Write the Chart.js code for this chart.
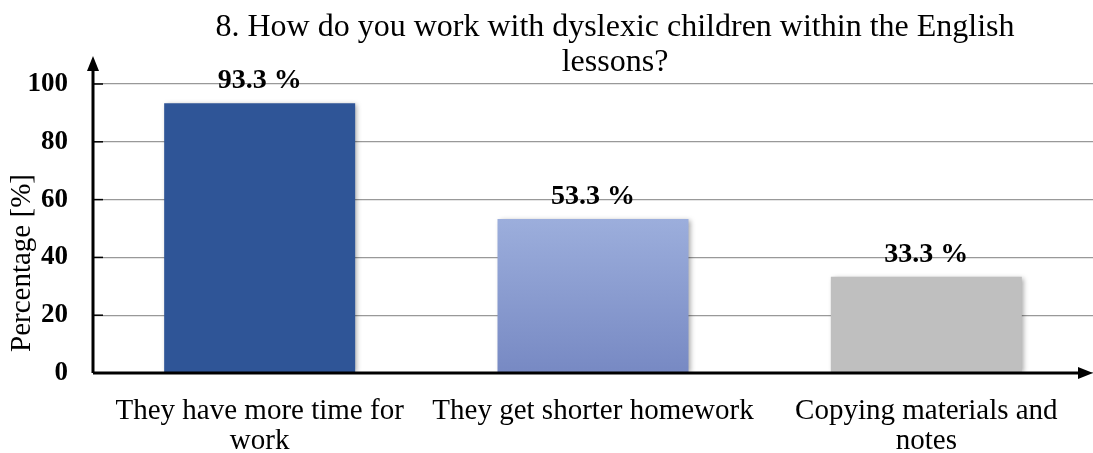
<!DOCTYPE html>
<html>
<head>
<meta charset="utf-8">
<script src="https://cdn.jsdelivr.net/npm/chart.js@4.4.0/dist/chart.umd.min.js"></script>
<style>
  html, body { margin: 0; padding: 0; background: #fff; }
  #wrap { width: 1093px; height: 453px; position: relative; }
</style>
</head>
<body>
<div id="wrap"><canvas id="c" width="1093" height="453"></canvas></div>
<script>
const titleLines = ["8. How do you work with dyslexic children within the English", "lessons?"];
const categories = [["They have more time for", "work"], ["They get shorter homework"], ["Copying materials and", "notes"]];
const values = [93.3, 53.3, 33.3];
const yTicks = [0, 20, 40, 60, 80, 100];
const yAxisTitle = "Percentage [%]";
const barColors = ["#2F5597", "gradient", "#BFBFBF"];

const SERIF = "'Liberation Serif', 'Times New Roman', serif";

const extrasPlugin = {
  id: 'extras',
  beforeDatasetsDraw(chart) {
    const ctx = chart.ctx;
    ctx.save();
    ctx.shadowColor = 'rgba(0,0,0,0.35)';
    ctx.shadowBlur = 5;
    ctx.shadowOffsetX = 2;
    ctx.shadowOffsetY = 1;
  },
  afterDatasetsDraw(chart) {
    const ctx = chart.ctx;
    ctx.restore();
    const meta = chart.getDatasetMeta(0);
    ctx.save();
    ctx.font = "bold 28px " + SERIF;
    ctx.fillStyle = '#000';
    ctx.textAlign = 'center';
    ctx.textBaseline = 'alphabetic';
    meta.data.forEach((bar, i) => {
      ctx.fillText(values[i].toFixed(1) + " %", bar.x, bar.y - 15);
    });
    ctx.restore();
  },
  afterDraw(chart) {
    const ctx = chart.ctx;
    const a = chart.chartArea;
    const ys = chart.scales.y;
    const y0 = ys.getPixelForValue(0);
    ctx.save();
    ctx.strokeStyle = '#000';
    ctx.fillStyle = '#000';
    ctx.lineWidth = 3;
    ctx.beginPath();
    ctx.moveTo(a.left, y0);
    ctx.lineTo(a.left, 68);
    ctx.moveTo(a.left, y0);
    ctx.lineTo(1082, y0);
    ctx.stroke();
    ctx.beginPath();
    ctx.moveTo(a.left, 56);
    ctx.lineTo(a.left - 6, 71);
    ctx.lineTo(a.left + 6, 71);
    ctx.closePath();
    ctx.fill();
    ctx.beginPath();
    ctx.moveTo(1093, y0);
    ctx.lineTo(1078, y0 - 6);
    ctx.lineTo(1078, y0 + 6);
    ctx.closePath();
    ctx.fill();
    ctx.lineWidth = 1.5;
    yTicks.forEach(v => {
      const y = ys.getPixelForValue(v);
      ctx.beginPath();
      ctx.moveTo(a.left, y);
      ctx.lineTo(a.left + 10, y);
      ctx.stroke();
    });
    ctx.font = "32px " + SERIF;
    ctx.textAlign = 'center';
    ctx.textBaseline = 'middle';
    ctx.fillText(titleLines[0], 615, 28);
    ctx.fillText(titleLines[1], 615, 63);
    ctx.translate(22, 263);
    ctx.rotate(-Math.PI / 2);
    ctx.font = "29px " + SERIF;
    ctx.fillText(yAxisTitle, 0, 0);
    ctx.restore();
  }
};

const ctx = document.getElementById('c').getContext('2d');
new Chart(ctx, {
  type: 'bar',
  data: {
    labels: categories,
    datasets: [{
      data: values,
      backgroundColor: (c) => {
        const i = c.dataIndex;
        if (barColors[i] !== 'gradient') return barColors[i];
        const ch = c.chart;
        if (!ch.chartArea) return '#8C9FD4';
        const ys = ch.scales.y;
        const g = ch.ctx.createLinearGradient(0, ys.getPixelForValue(values[i]), 0, ys.getPixelForValue(0));
        g.addColorStop(0, '#9CAEDC');
        g.addColorStop(1, '#7789C3');
        return g;
      },
      borderWidth: 0,
      barPercentage: 0.573,
      categoryPercentage: 1.0
    }]
  },
  options: {
    responsive: false,
    animation: false,
    devicePixelRatio: 1,
    layout: { padding: { top: 84, right: 0, left: 0, bottom: 0 } },
    plugins: { legend: { display: false }, tooltip: { enabled: false }, title: { display: false } },
    scales: {
      x: {
        grid: { display: false, drawTicks: false },
        border: { display: false },
        ticks: {
          color: '#000',
          font: { family: SERIF, size: 29, lineHeight: 1.05 },
          padding: 23,
          maxRotation: 0,
          autoSkip: false
        },
        afterFit(s) { s.height = 80; }
      },
      y: {
        min: 0, max: 100,
        afterBuildTicks(s) { s.ticks = yTicks.map(v => ({ value: v })); },
        grid: { color: '#999', lineWidth: 1.2, drawTicks: false },
        border: { display: false },
        ticks: {
          color: '#000',
          font: { family: SERIF, size: 27, weight: 'bold' },
          padding: 25
        },
        afterFit(s) { s.width = 93; }
      }
    }
  },
  plugins: [extrasPlugin]
});
</script>
</body>
</html>
